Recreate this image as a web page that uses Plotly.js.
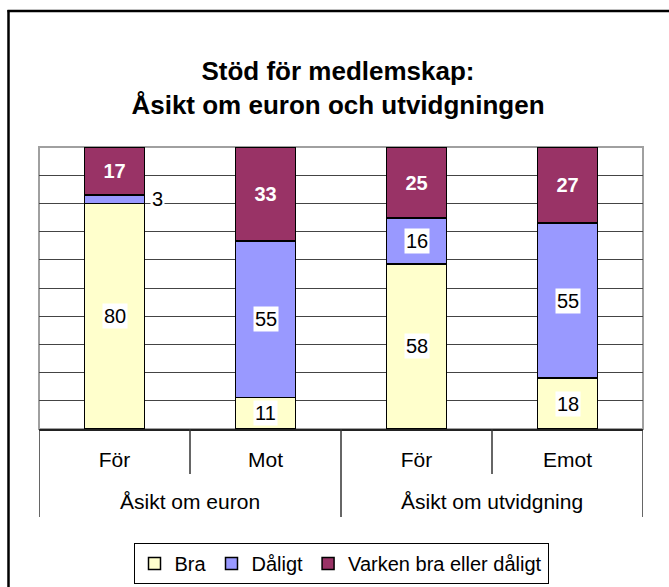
<!DOCTYPE html>
<html>
<head>
<meta charset="utf-8">
<script src="https://cdn.plot.ly/plotly-3.0.1.min.js"></script>
<style>
  html, body { margin: 0; padding: 0; background: #fff; overflow: hidden; }
  #chart { width: 669px; height: 587px; }
</style>
</head>
<body>
<div id="chart"></div>
<script>
// ---- data ----
const subCategories = ['För', 'Mot', 'För', 'Emot'];
const groupNames = ['Åsikt om euron', 'Åsikt om utvidgning'];
const groupOf = [0, 0, 1, 1];
const seriesNames = ['Bra', 'Dåligt', 'Varken bra eller dåligt'];
const bra = [80, 11, 58, 18];
const daligt = [3, 55, 16, 55];
const varken = [17, 33, 25, 27];
const titleLines = ['Stöd för medlemskap:', 'Åsikt om euron och utvidgningen'];

// ---- styling ----
const colors = ['#FFFFCC', '#9999FF', '#993366'];
const FONT = 'Liberation Sans, Arial, Helvetica, sans-serif';
const W = 669, H = 587;
const M = { l: 39, r: 26, t: 147, b: 158, autoexpand: false };
const PW = W - M.l - M.r, PH = H - M.t - M.b;
const pxX = px => (px - M.l) / PW;
const pxY = py => (H - M.b - py) / PH;

const xIdx = subCategories.map((_, i) => i);
const totals = xIdx.map(i => bra[i] + daligt[i] + varken[i]);

function barTrace(name, vals, color, extra) {
  return Object.assign({
    type: 'bar', name: name, x: xIdx, y: vals,
    marker: { color: color, line: { color: '#000', width: 1.5 } },
    width: 0.4, hoverinfo: 'name+y'
  }, extra || {});
}

const traces = [
  barTrace(seriesNames[0], bra, colors[0]),
  barTrace(seriesNames[1], daligt, colors[1]),
  barTrace(seriesNames[2], varken, colors[2], {
    text: varken.map(String),
    texttemplate: '<b>%{text}</b>',
    textposition: 'inside',
    insidetextanchor: 'middle',
    constraintext: 'none',
    textfont: { family: FONT, size: 20, color: '#fff' }
  })
];

// labels with white background for Bra and Dåligt
const annotations = [];
xIdx.forEach(i => {
  const t = totals[i];
  const braMid = bra[i] / 2 / t * 100;
  const dalMid = (bra[i] + daligt[i] / 2) / t * 100;
  annotations.push({
    x: i, y: braMid, xref: 'x', yref: 'y', text: String(bra[i]),
    showarrow: false, bgcolor: '#fff', borderpad: 1,
    font: { family: FONT, size: 20, color: '#000' }
  });
  const small = daligt[i] / t * 100 < 6;
  annotations.push({
    x: i, y: dalMid, xref: 'x', yref: 'y', text: String(daligt[i]),
    showarrow: false, bgcolor: '#fff', borderpad: 1,
    xanchor: small ? 'left' : 'center', xshift: small ? 35 : 0,
    font: { family: FONT, size: 20, color: '#000' }
  });
});

// group labels
groupNames.forEach((g, gi) => {
  const members = xIdx.filter(i => groupOf[i] === gi);
  const cx = members.reduce((a, b) => a + b, 0) / members.length;
  annotations.push({
    x: cx, y: pxY(502), xref: 'x', yref: 'paper', yanchor: 'middle',
    text: g, showarrow: false,
    font: { family: FONT, size: 21, color: '#000' }
  });
});

// shapes: plot frame, dividers, outer border
const shapes = [];
shapes.push({
  type: 'rect', xref: 'paper', yref: 'paper', x0: 0, x1: 1, y0: 0, y1: 1,
  line: { color: '#a0a0a0', width: 2 }, layer: 'below'
});
const longY = pxY(517), shortY = pxY(474);
const bounds = [-0.5];
for (let i = 0; i < xIdx.length - 1; i++) bounds.push(i + 0.5);
bounds.push(xIdx.length - 0.5);
bounds.forEach((b, k) => {
  const isEdge = k === 0 || k === bounds.length - 1;
  const isGroup = isEdge || groupOf[Math.floor(b)] !== groupOf[Math.ceil(b)];
  shapes.push({
    type: 'line', xref: 'x', yref: 'paper', x0: b, x1: b, y0: 0,
    y1: isGroup ? longY : shortY,
    line: { color: '#333', width: 1.5 }
  });
});
// outer chart border (left and top edges visible)
shapes.push({
  type: 'line', xref: 'paper', yref: 'paper',
  x0: pxX(8.5), x1: pxX(8.5), y0: pxY(H + 5), y1: pxY(10),
  line: { color: '#000', width: 2.5 }
});
shapes.push({
  type: 'line', xref: 'paper', yref: 'paper',
  x0: pxX(7.5), x1: pxX(W + 5), y0: pxY(11), y1: pxY(11),
  line: { color: '#000', width: 2.5 }
});

const gridVals = [];
for (let v = 10; v < 100; v += 10) gridVals.push(v);

const layout = {
  width: W, height: H,
  margin: M,
  paper_bgcolor: '#fff', plot_bgcolor: '#fff',
  font: { family: FONT, size: 20, color: '#000' },
  barmode: 'stack', barnorm: 'percent',
  showlegend: true,
  title: {
    text: titleLines.map(s => '<b>' + s + '</b>').join('<br>'),
    font: { family: FONT, size: 26, color: '#000' },
    x: 338 / W, xanchor: 'center',
    y: 1 - 80 / H, yanchor: 'middle', yref: 'container'
  },
  xaxis: {
    range: [-0.5, xIdx.length - 0.5],
    tickmode: 'array', tickvals: xIdx, ticktext: subCategories,
    ticks: '', ticklabelstandoff: 11,
    tickfont: { family: FONT, size: 21, color: '#000' },
    showgrid: false, zeroline: false,
    showline: true, linecolor: '#222', linewidth: 2,
    fixedrange: true
  },
  yaxis: {
    range: [0, 100], tickmode: 'array', tickvals: gridVals,
    showticklabels: false, ticks: '',
    showgrid: true, gridcolor: '#444', gridwidth: 1,
    zeroline: false, showline: false, fixedrange: true
  },
  legend: {
    orientation: 'h', x: 0.5, xanchor: 'center',
    y: pxY(543), yanchor: 'top',
    bordercolor: '#000', borderwidth: 1, bgcolor: '#fff',
    font: { family: FONT, size: 20, color: '#000' },
    traceorder: 'normal'
  },
  annotations: annotations,
  shapes: shapes
};

Plotly.newPlot('chart', traces, layout, { displayModeBar: false, staticPlot: true });
</script>
</body>
</html>
